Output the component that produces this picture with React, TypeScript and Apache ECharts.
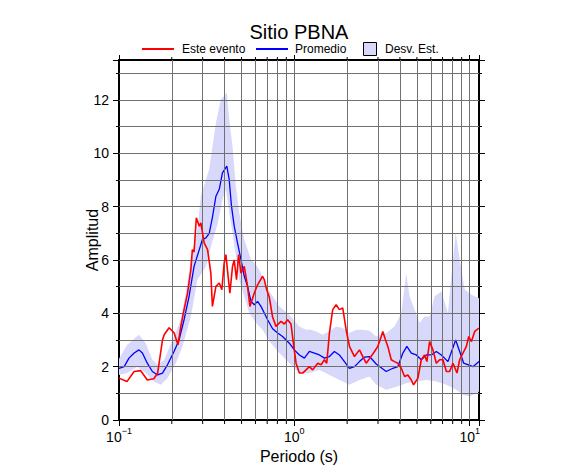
import React, { useEffect, useRef } from 'react';
import * as echarts from 'echarts';

const titleText = 'Sitio PBNA';
const xName = 'Periodo (s)';
const yName = 'Amplitud';
const legendNames = ['Este evento', 'Promedio', 'Desv. Est.'];

const eventPeriods = [0.1, 0.111, 0.122, 0.133, 0.145, 0.158, 0.166, 0.177, 0.181, 0.193,
  0.206, 0.217, 0.225, 0.235, 0.246, 0.257, 0.262, 0.268, 0.276, 0.287,
  0.293, 0.306, 0.32, 0.334, 0.341, 0.357, 0.373, 0.386, 0.398, 0.407,
  0.421, 0.429, 0.444, 0.454, 0.468, 0.481, 0.496, 0.518, 0.541, 0.558,
  0.591, 0.617, 0.659, 0.674, 0.695, 0.72, 0.752, 0.786, 0.821, 0.839,
  0.877, 0.916, 0.957, 0.987, 1.023, 1.068, 1.115, 1.166, 1.218, 1.272,
  1.359, 1.421, 1.484, 1.53, 1.585, 1.655, 1.731, 1.807, 1.888, 1.974,
  2.062, 2.202, 2.352, 2.457, 2.569, 2.683, 2.865, 2.992, 3.129, 3.195,
  3.311, 3.413, 3.57, 3.728, 3.893, 4.071, 4.252, 4.44, 4.644, 4.786,
  5.066, 5.297, 5.532, 5.702, 5.907, 6.17, 6.452, 6.739, 7.038, 7.36,
  7.686, 8.028, 8.461, 8.767, 9.156, 9.575, 9.87, 10.23, 10.68, 11.3];
const eventAmps = [1.57, 1.44, 1.82, 1.85, 1.5, 1.55, 1.75, 3.0, 3.2, 3.46,
  3.27, 2.82, 3.5, 4.14, 4.76, 5.64, 6.39, 6.3, 7.58, 7.27,
  7.39, 6.64, 6.39, 5.51, 4.26, 5.01, 5.14, 4.89, 5.89, 6.2,
  5.26, 4.76, 5.76, 6.0, 5.26, 6.2, 5.51, 5.76, 5.01, 4.26,
  4.76, 5.07, 5.39, 5.26, 4.89, 4.6, 3.85, 3.51, 3.64, 3.7,
  3.6, 3.76, 3.6, 2.88, 2.13, 1.76, 1.76, 1.88, 2.0, 1.88,
  2.13, 2.07, 2.26, 2.13, 3.26, 4.14, 4.32, 4.14, 4.2, 3.38,
  2.76, 2.38, 2.63, 2.38, 2.13, 2.3, 2.57, 2.76, 3.13, 3.32,
  3.0, 2.76, 2.26, 2.19, 2.13, 1.94, 1.63, 1.69, 1.5, 1.32,
  1.57, 2.26, 2.44, 2.19, 2.94, 2.63, 2.13, 2.26, 2.26, 1.82,
  1.82, 2.13, 1.76, 2.26, 2.51, 2.76, 3.13, 2.94, 3.32, 3.45];

const meanPeriods = [0.1, 0.107, 0.114, 0.122, 0.13, 0.136, 0.145, 0.155, 0.166, 0.177,
  0.189, 0.206, 0.22, 0.235, 0.251, 0.268, 0.287, 0.299, 0.313, 0.327,
  0.341, 0.357, 0.373, 0.389, 0.412, 0.425, 0.438, 0.454, 0.474, 0.496,
  0.518, 0.541, 0.566, 0.591, 0.617, 0.645, 0.674, 0.704, 0.752, 0.803,
  0.857, 0.936, 1.0, 1.068, 1.141, 1.218, 1.301, 1.39, 1.484, 1.585,
  1.692, 1.807, 1.931, 2.062, 2.202, 2.352, 2.512, 2.683, 2.93, 3.342,
  3.646, 3.893, 4.159, 4.382, 4.644, 4.96, 5.297, 5.657, 6.041, 6.452,
  6.892, 7.516, 8.318, 8.767, 9.242, 10.44, 11.3];
const meanAmps = [1.94, 2.0, 2.32, 2.51, 2.63, 2.51, 2.13, 1.82, 1.69, 1.76,
  2.07, 2.57, 3.0, 3.76, 4.64, 5.76, 6.39, 6.77, 6.83, 7.0,
  7.6, 8.39, 8.65, 9.27, 9.52, 9.02, 8.02, 7.27, 6.64, 6.02,
  5.39, 5.01, 4.45, 4.32, 4.45, 4.26, 4.01, 3.76, 3.42, 3.26,
  3.13, 2.88, 2.63, 2.44, 2.32, 2.57, 2.51, 2.44, 2.32, 2.38,
  2.57, 2.44, 2.19, 1.94, 2.0, 2.19, 2.36, 2.38, 2.1, 1.82,
  1.94, 2.0, 2.51, 2.76, 2.51, 2.44, 2.26, 2.44, 2.44, 2.57,
  2.44, 2.19, 3.0, 2.57, 2.13, 2.0, 2.19];

const upperPeriods = [0.1, 0.1115, 0.13, 0.142, 0.155, 0.166, 0.181, 0.202, 0.225, 0.24,
  0.257, 0.28, 0.293, 0.327, 0.357, 0.381, 0.398, 0.412, 0.425, 0.444,
  0.464, 0.485, 0.518, 0.566, 0.604, 0.645, 0.689, 0.752, 0.821, 0.936,
  1.068, 1.166, 1.246, 1.33, 1.451, 1.585, 1.731, 1.888, 2.062, 2.252,
  2.457, 2.683, 2.93, 3.342, 3.728, 4.071, 4.347, 4.541, 4.85, 5.18,
  5.532, 5.907, 6.31, 6.892, 7.516, 7.86, 8.318, 8.767, 9.363, 10.23, 11.3];
const upperAmps = [2.3, 2.82, 3.2, 2.88, 2.26, 2.07, 2.26, 3.0, 3.76, 4.76,
  6.02, 7.14, 8.4, 9.4, 11.15, 12.03, 12.15, 12.28, 11.28, 10.27,
  8.77, 7.77, 6.77, 6.02, 5.83, 5.51, 5.01, 4.64, 4.26, 3.95,
  3.51, 3.38, 3.38, 3.32, 3.2, 3.32, 3.51, 3.45, 3.26, 3.38,
  3.38, 3.35, 3.13, 3.26, 3.51, 4.01, 5.51, 4.64, 4.14, 3.64,
  3.88, 3.88, 4.64, 4.82, 4.01, 5.39, 7.02, 6.02, 4.89, 4.7, 4.57];

const lowerPeriods = [0.1, 0.1115, 0.127, 0.142, 0.158, 0.173, 0.189, 0.211, 0.23, 0.257,
  0.28, 0.313, 0.341, 0.365, 0.389, 0.407, 0.425, 0.444, 0.464, 0.485,
  0.518, 0.553, 0.604, 0.659, 0.72, 0.821, 0.936, 1.068, 1.218, 1.39,
  1.585, 1.807, 2.062, 2.352, 2.683, 2.93, 3.342, 3.812, 4.347, 4.96,
  5.657, 6.452, 7.36, 8.395, 9.156, 10.0, 11.3];
const lowerAmps = [1.69, 1.76, 2.0, 1.76, 1.44, 1.32, 1.57, 2.13, 2.76, 3.88,
  5.26, 5.76, 6.7, 7.35, 8.27, 8.65, 7.77, 7.02, 6.14, 5.26,
  4.64, 4.01, 3.64, 3.38, 2.95, 2.51, 2.13, 1.76, 1.76, 1.88,
  1.69, 1.5, 1.32, 1.5, 1.63, 1.32, 1.13, 1.25, 1.38, 1.44,
  1.5, 1.44, 1.32, 1.13, 0.94, 0.88, 1.07];

const gridPeriods = [0.2, 0.3, 0.4, 0.5, 0.6, 0.7, 0.8, 0.9, 1, 2, 3, 4, 5, 6, 7, 8, 9, 10];
const gridAmps = [1, 2, 3, 4, 5, 6, 7, 8, 9, 10, 11, 12, 13];
const xRange = [0.1, 11.3];
const yRange = [0, 13.5];

const RED = '#ff0000';
const BLUE = '#0000ff';
const BAND = '#d8d8fa';
const GRIDC = '#707070';
const FONT = '"Liberation Sans", Arial, Helvetica, sans-serif';

const pair = (xs: number[], ys: number[]) => xs.map((x, i) => [x, ys[i]]);

export default function App() {
  const ref = useRef<HTMLDivElement>(null);
  useEffect(() => {
    const chart = echarts.init(ref.current!, null, { renderer: 'svg' });
    const upper = pair(upperPeriods, upperAmps);
    const lower = pair(lowerPeriods, lowerAmps);
    const isDecade = (v: number) => {
      const l = Math.log10(v);
      return Math.abs(l - Math.round(l)) < 1e-6;
    };
    const xFormatter = (v: number) => {
      if (!isDecade(v)) return '';
      const e = Math.round(Math.log10(v));
      return '{b|10}{s|' + String(e).replace('-', '\u2212') + '}';
    };
    const yFormatter = (v: number) => (v % 2 === 0 && v <= 12 ? String(v) : '');
    const frameLine = { show: true, onZero: false, lineStyle: { color: '#000', width: 2 } };
    const tick = (len: number) => ({ show: true, inside: false, length: len, lineStyle: { color: '#000', width: 1 } });

    const option: any = {
      animation: false,
      textStyle: { fontFamily: FONT },
      grid: { left: 119, right: 107, top: 60, bottom: 55, containLabel: false },
      xAxis: [
        {
          type: 'log', logBase: 10, min: xRange[0], max: xRange[1], position: 'bottom',
          axisLine: frameLine, axisTick: tick(6),
          splitLine: { show: false },
          axisLabel: {
            formatter: xFormatter, margin: 6, color: '#000',
            rich: {
              b: { fontSize: 14, color: '#000', fontFamily: FONT, lineHeight: 18, verticalAlign: 'bottom' },
              s: { fontSize: 9, color: '#000', fontFamily: FONT, lineHeight: 10, verticalAlign: 'top' },
            },
          },
          name: xName, nameLocation: 'middle', nameGap: 28, nameMoveOverlap: false,
          nameTextStyle: { fontSize: 16, color: '#000', fontFamily: FONT },
        },
        {
          type: 'log', logBase: 10, min: xRange[0], max: xRange[1], position: 'top',
          axisLine: frameLine, axisTick: tick(5),
          splitLine: { show: false }, axisLabel: { show: false },
        },
      ],
      yAxis: [
        {
          type: 'value', min: yRange[0], max: yRange[1], interval: 2, position: 'left',
          axisLine: frameLine, axisTick: tick(6), splitLine: { show: false },
          axisLabel: { formatter: yFormatter, fontSize: 14, color: '#000', margin: 10, fontFamily: FONT },
          name: yName, nameLocation: 'middle', nameGap: 19, nameMoveOverlap: false,
          nameTextStyle: { fontSize: 16, color: '#000', fontFamily: FONT },
        },
        {
          type: 'value', min: yRange[0], max: yRange[1], interval: 1, position: 'left',
          axisLine: { show: false }, axisTick: tick(3), splitLine: { show: false }, axisLabel: { show: false },
        },
        {
          type: 'value', min: yRange[0], max: yRange[1], interval: 1, position: 'right',
          axisLine: frameLine, axisTick: tick(3), splitLine: { show: false }, axisLabel: { show: false },
        },
        {
          type: 'value', min: yRange[0], max: yRange[1], interval: 2, position: 'right',
          axisLine: { show: false }, axisTick: tick(6), splitLine: { show: false }, axisLabel: { show: false },
        },
      ],
      series: [
        {
          type: 'custom', name: legendNames[2], xAxisIndex: 0, yAxisIndex: 0, z: 1, silent: true,
          data: [[1, 1]], encode: { x: 0, y: 1 },
          renderItem: (_params: any, api: any) => {
            const pts: number[][] = [];
            upper.forEach((p) => pts.push(api.coord(p)));
            for (let i = lower.length - 1; i >= 0; i--) pts.push(api.coord(lower[i]));
            return { type: 'polygon', shape: { points: pts }, style: { fill: BAND, stroke: 'none' } };
          },
        },
        {
          type: 'custom', name: 'minorTicks', xAxisIndex: 0, yAxisIndex: 0, z: 1, silent: true,
          data: [[1, 1]], encode: { x: 0, y: 1 },
          renderItem: (_params: any, api: any) => {
            const children: any[] = [];
            gridPeriods.filter((p) => !isDecade(p)).forEach((p) => {
              const b = api.coord([p, yRange[0]]);
              const t = api.coord([p, yRange[1]]);
              children.push({ type: 'line', shape: { x1: b[0], y1: b[1], x2: b[0], y2: b[1] + 4 }, style: { stroke: '#000', lineWidth: 1 } });
              children.push({ type: 'line', shape: { x1: t[0], y1: t[1], x2: t[0], y2: t[1] - 3 }, style: { stroke: '#000', lineWidth: 1 } });
            });
            return { type: 'group', children };
          },
        },
        {
          type: 'line', name: 'grid', xAxisIndex: 0, yAxisIndex: 0, z: 2, silent: true, data: [],
          markLine: {
            silent: true, symbol: ['none', 'none'], label: { show: false },
            lineStyle: { color: GRIDC, width: 1, type: 'solid' },
            data: [...gridPeriods.map((p) => ({ xAxis: p })), ...gridAmps.map((a) => ({ yAxis: a }))],
          },
        },
        {
          type: 'line', name: legendNames[1], xAxisIndex: 0, yAxisIndex: 0, z: 4,
          data: pair(meanPeriods, meanAmps), showSymbol: false, symbol: 'none',
          lineStyle: { color: BLUE, width: 1.3 },
        },
        {
          type: 'line', name: legendNames[0], xAxisIndex: 0, yAxisIndex: 0, z: 5,
          data: pair(eventPeriods, eventAmps), showSymbol: false, symbol: 'none',
          lineStyle: { color: RED, width: 1.6 },
        },
      ],
      graphic: [
        { type: 'text', x: 299, y: 32, style: { text: titleText, fontSize: 20, fontFamily: FONT, fill: '#000', align: 'center', verticalAlign: 'middle' } },
        { type: 'line', shape: { x1: 142, y1: 49, x2: 174, y2: 49 }, style: { stroke: RED, lineWidth: 2 } },
        { type: 'text', x: 182, y: 49, style: { text: legendNames[0], fontSize: 12, fontFamily: FONT, fill: '#000', align: 'left', verticalAlign: 'middle' } },
        { type: 'line', shape: { x1: 256, y1: 49, x2: 288, y2: 49 }, style: { stroke: BLUE, lineWidth: 2 } },
        { type: 'text', x: 295, y: 49, style: { text: legendNames[1], fontSize: 12, fontFamily: FONT, fill: '#000', align: 'left', verticalAlign: 'middle' } },
        { type: 'rect', shape: { x: 363.5, y: 42.5, width: 13, height: 13 }, style: { fill: BAND, stroke: '#000', lineWidth: 1 } },
        { type: 'text', x: 385, y: 49, style: { text: legendNames[2], fontSize: 12, fontFamily: FONT, fill: '#000', align: 'left', verticalAlign: 'middle' } },
      ],
    };
    chart.setOption(option);
    return () => chart.dispose();
  }, []);
  return <div ref={ref} style={{ position: 'absolute', left: 0, top: 0, width: 586, height: 475 }} />;
}
